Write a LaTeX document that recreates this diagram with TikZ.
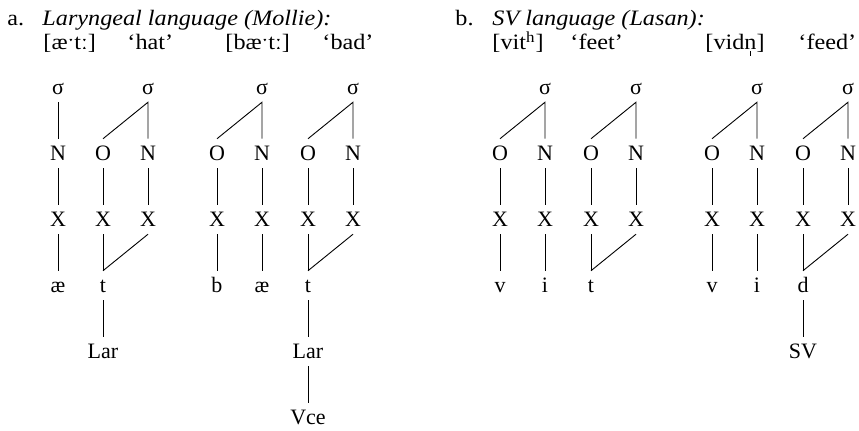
\documentclass[tikz,border=0pt]{standalone}
\usepackage{fontspec}
\setmainfont{Liberation Serif}
\newfontfamily\hdrfont[FakeStretch=1.1]{Liberation Serif}
\usepackage{tikz}
\newcommand{\sylln}{\ooalign{n\cr\hidewidth\rule[-0.55ex]{0.06em}{0.45ex}\hidewidth\cr}}

\begin{document}
\begin{tikzpicture}[x=0.5pt, y=-0.5pt, line width=0.45pt,
    every node/.style={font=\fontsize{11}{13}\selectfont},
    treenode/.style={anchor=base, text height=7.5pt, text depth=0pt, inner ysep=3.4pt, inner xsep=0pt},
    lbl/.style={anchor=base west, inner sep=0pt, font=\fontsize{11}{13}\hdrfont}]
        \useasboundingbox (0,0) rectangle (859,431);
        \node[lbl] (hdra) at (7,26) {a.};
        \node[lbl] (titlea) at (42,26) {\itshape Laryngeal language (Mollie):};
        \node[lbl] (forma1) at (43,50) {[æˑtː]};
        \node[lbl] (glossa1) at (127,50) {‘hat’};
        \node[lbl] (forma2) at (225,50) {[bæˑtː]};
        \node[lbl] (glossa2) at (322,50) {‘bad’};
        \node[lbl] (hdrb) at (455,26) {b.};
        \node[lbl] (titleb) at (492,26) {\itshape SV language (Lasan):};
        \node[lbl] (formb1) at (492,50) {[vit\textsuperscript{h}]};
        \node[lbl] (glossb1) at (570,50) {‘feet’};
        \node[lbl] (formb2) at (705,50) {[vid\sylln]};
        \node[lbl] (glossb2) at (798,50) {‘feed’};
        \node[treenode] (a1s1) at (58,95) {σ};
        \node[treenode] (a1n1) at (58,161) {N};
        \node[treenode] (a1x1) at (58,227) {X};
        \node[treenode] (a1ae) at (58,293) {æ};
        \node[treenode] (a1s2) at (148,95) {σ};
        \node[treenode] (a1o2) at (103,161) {O};
        \node[treenode] (a1n2) at (148,161) {N};
        \node[treenode] (a1x2) at (103,227) {X};
        \node[treenode] (a1x3) at (148,227) {X};
        \node[treenode] (a1t) at (103,293) {t};
        \node[treenode] (a1lar) at (103,359) {Lar};
        \draw (a1s1) -- (a1n1) -- (a1x1) -- (a1ae);
        \draw (a1o2.north) -- (a1s2.south) -- (a1n2.north);
        \draw (a1o2) -- (a1x2) -- (a1t) -- (a1lar);
        \draw (a1n2) -- (a1x3);
        \draw (a1x3.south) -- (a1t.north);
        \node[treenode] (a2s1) at (262,95) {σ};
        \node[treenode] (a2o1) at (217,161) {O};
        \node[treenode] (a2n1) at (262,161) {N};
        \node[treenode] (a2x1) at (217,227) {X};
        \node[treenode] (a2x2) at (262,227) {X};
        \node[treenode] (a2b) at (217,293) {b};
        \node[treenode] (a2ae) at (262,293) {æ};
        \node[treenode] (a2s2) at (353,95) {σ};
        \node[treenode] (a2o2) at (308,161) {O};
        \node[treenode] (a2n2) at (353,161) {N};
        \node[treenode] (a2x3) at (308,227) {X};
        \node[treenode] (a2x4) at (353,227) {X};
        \node[treenode] (a2t) at (308,293) {t};
        \node[treenode] (a2lar) at (308,359) {Lar};
        \node[treenode] (a2vce) at (308,425) {Vce};
        \draw (a2o1.north) -- (a2s1.south) -- (a2n1.north);
        \draw (a2o1) -- (a2x1) -- (a2b);
        \draw (a2n1) -- (a2x2) -- (a2ae);
        \draw (a2o2.north) -- (a2s2.south) -- (a2n2.north);
        \draw (a2o2) -- (a2x3) -- (a2t) -- (a2lar) -- (a2vce);
        \draw (a2n2) -- (a2x4);
        \draw (a2x4.south) -- (a2t.north);
        \node[treenode] (b1s1) at (545,95) {σ};
        \node[treenode] (b1o1) at (500,161) {O};
        \node[treenode] (b1n1) at (545,161) {N};
        \node[treenode] (b1x1) at (500,227) {X};
        \node[treenode] (b1x2) at (545,227) {X};
        \node[treenode] (b1v) at (500,293) {v};
        \node[treenode] (b1i) at (545,293) {i};
        \node[treenode] (b1s2) at (636,95) {σ};
        \node[treenode] (b1o2) at (591,161) {O};
        \node[treenode] (b1n2) at (636,161) {N};
        \node[treenode] (b1x3) at (591,227) {X};
        \node[treenode] (b1x4) at (636,227) {X};
        \node[treenode] (b1t) at (591,293) {t};
        \draw (b1o1.north) -- (b1s1.south) -- (b1n1.north);
        \draw (b1o1) -- (b1x1) -- (b1v);
        \draw (b1n1) -- (b1x2) -- (b1i);
        \draw (b1o2.north) -- (b1s2.south) -- (b1n2.north);
        \draw (b1o2) -- (b1x3) -- (b1t);
        \draw (b1n2) -- (b1x4);
        \draw (b1x4.south) -- (b1t.north);
        \node[treenode] (b2s1) at (757,95) {σ};
        \node[treenode] (b2o1) at (712,161) {O};
        \node[treenode] (b2n1) at (757,161) {N};
        \node[treenode] (b2x1) at (712,227) {X};
        \node[treenode] (b2x2) at (757,227) {X};
        \node[treenode] (b2v) at (712,293) {v};
        \node[treenode] (b2i) at (757,293) {i};
        \node[treenode] (b2s2) at (848,95) {σ};
        \node[treenode] (b2o2) at (803,161) {O};
        \node[treenode] (b2n2) at (848,161) {N};
        \node[treenode] (b2x3) at (803,227) {X};
        \node[treenode] (b2x4) at (848,227) {X};
        \node[treenode] (b2d) at (803,293) {d};
        \node[treenode] (b2sv) at (803,359) {SV};
        \draw (b2o1.north) -- (b2s1.south) -- (b2n1.north);
        \draw (b2o1) -- (b2x1) -- (b2v);
        \draw (b2n1) -- (b2x2) -- (b2i);
        \draw (b2o2.north) -- (b2s2.south) -- (b2n2.north);
        \draw (b2o2) -- (b2x3) -- (b2d) -- (b2sv);
        \draw (b2n2) -- (b2x4);
        \draw (b2x4.south) -- (b2d.north);
    \end{tikzpicture}
\end{document}
